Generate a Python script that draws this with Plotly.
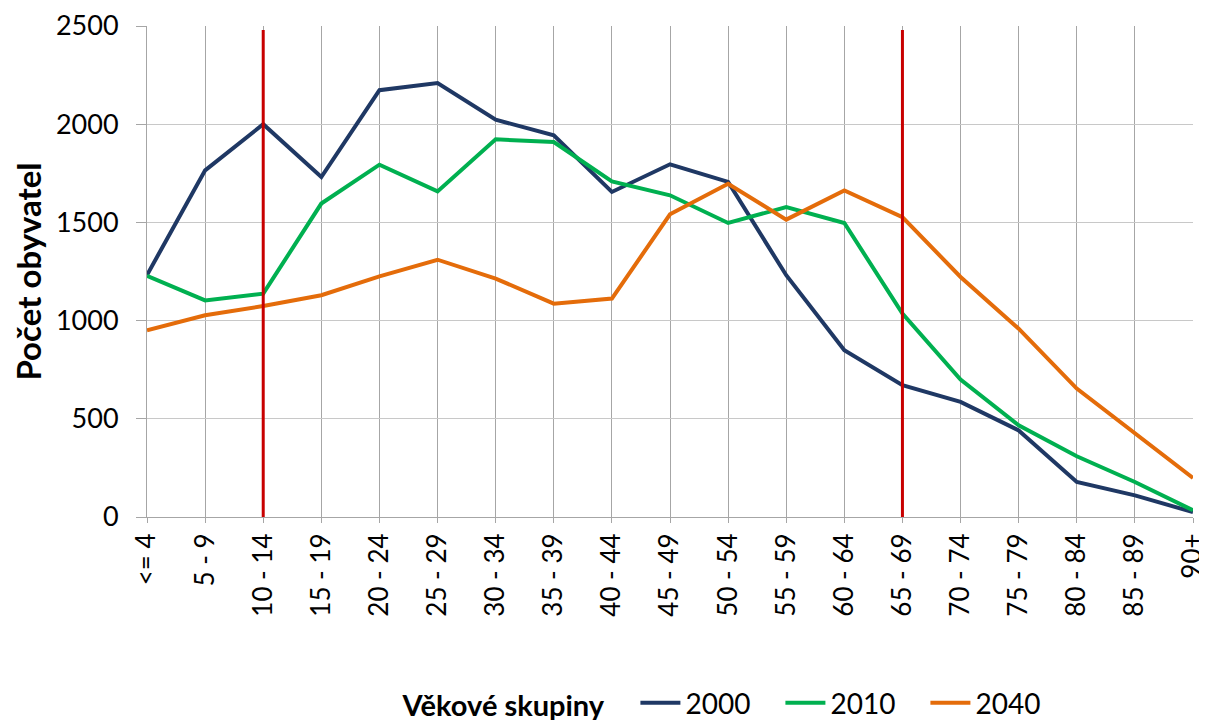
import plotly.graph_objects as go

categories = ["<= 4", "5 - 9", "10 - 14", "15 - 19", "20 - 24", "25 - 29", "30 - 34",
              "35 - 39", "40 - 44", "45 - 49", "50 - 54", "55 - 59", "60 - 64",
              "65 - 69", "70 - 74", "75 - 79", "80 - 84", "85 - 89", "90+"]

pop_2000 = [1232, 1765, 2000, 1731, 2173, 2210, 2023, 1943, 1655, 1796, 1706,
            1231, 849, 671, 586, 441, 178, 110, 25]
pop_2010 = [1228, 1103, 1137, 1596, 1794, 1658, 1923, 1909, 1709, 1638, 1497,
            1578, 1497, 1036, 700, 467, 309, 178, 34]
pop_2040 = [951, 1027, 1074, 1129, 1225, 1310, 1214, 1086, 1112, 1541, 1697,
            1514, 1663, 1527, 1222, 959, 654, 425, 199]

series_names = ["2000", "2010", "2040"]
series_colors = ["#1F3864", "#00B050", "#E46C0A"]

marker_groups = ["10 - 14", "65 - 69"]
marker_top = 2480

y_ticks = [0, 500, 1000, 1500, 2000, 2500]

FONT = "Lato"

fig = go.Figure()

for name, vals, col in zip(series_names, [pop_2000, pop_2010, pop_2040], series_colors):
    fig.add_trace(go.Scatter(x=categories, y=vals, mode="lines", name=name,
                             line=dict(color=col, width=4)))

for g in marker_groups:
    fig.add_trace(go.Scatter(x=[g, g], y=[0, marker_top], mode="lines",
                             line=dict(color="#C80000", width=3),
                             showlegend=False, hoverinfo="skip"))

# the page body adds an 8px offset; margins compensate for it
fig.update_layout(
    width=1207, height=720,
    margin=dict(l=139, r=22, t=18, b=211, autoexpand=False),
    paper_bgcolor="white", plot_bgcolor="white",
    font=dict(family=FONT, color="#000000"),
    showlegend=True,
    legend=dict(orientation="h", x=0.563, xanchor="center", y=-0.379, yanchor="middle",
                font=dict(family=FONT, size=28, color="#000000"),
                title=dict(text="<b>Věkové skupiny</b>\u00a0\u00a0\u00a0", side="left",
                           font=dict(family=FONT, size=29, color="#000000")),
                itemwidth=40, entrywidth=90, traceorder="normal"),
)

fig.update_xaxes(
    type="category", categoryorder="array", categoryarray=categories,
    range=[0, len(categories) - 1],
    showgrid=True, gridcolor="#A6A6A6", gridwidth=1,
    showline=True, linecolor="#A6A6A6", linewidth=1,
    ticks="outside", ticklen=5, tickcolor="#A6A6A6",
    tickangle=-90, tickfont=dict(family=FONT, size=26, color="#000000"),
    zeroline=False, automargin=False,
)

fig.update_yaxes(
    range=[0, 2500], tickvals=y_ticks,
    showgrid=True, gridcolor="#C8C8C8", gridwidth=1,
    showline=True, linecolor="#A6A6A6", linewidth=1,
    ticks="outside", ticklen=10, tickcolor="#A6A6A6",
    ticklabelstandoff=12,
    tickfont=dict(family=FONT, size=27, color="#000000"),
    title=dict(text="<b>Počet obyvatel</b>", standoff=20,
               font=dict(family=FONT, size=33, color="#000000")),
    zeroline=False, automargin=False,
)

fig.write_html("out.html")
